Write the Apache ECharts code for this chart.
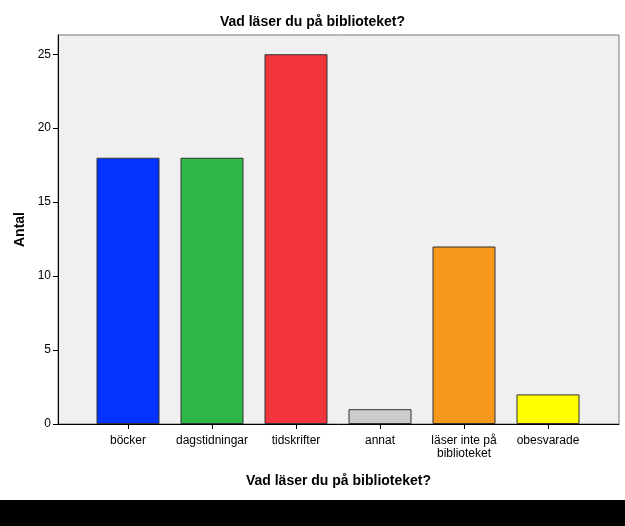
<!DOCTYPE html>
<html>
<head>
<meta charset="utf-8">
<script src="https://cdn.jsdelivr.net/npm/echarts@6/dist/echarts.min.js"></script>
<style>html,body{margin:0;padding:0;background:#fff}#c{width:625px;height:526px}</style>
</head>
<body>
<div id="c"></div>
<script>
const categories = ['böcker', 'dagstidningar', 'tidskrifter', 'annat', 'läser inte på\nbiblioteket', 'obesvarade'];
const values = [18, 18, 25, 1, 12, 2];
const barColors = ['#0433FF', '#2EB84A', '#F2343C', '#CCCCCC', '#F7981D', '#FFFF00'];
const yTicks = [0, 5, 10, 15, 20, 25];
const yMax = 26.3;
const titleText = 'Vad läser du på biblioteket?';
const xName = 'Vad läser du på biblioteket?';
const yName = 'Antal';

const font = 'Liberation Sans, Arial, sans-serif';
const chart = echarts.init(document.getElementById('c'), null, {renderer: 'canvas'});
chart.setOption({
  animation: false,
  backgroundColor: '#fff',
  title: {
    text: titleText, left: 'center', top: 10,
    textStyle: {fontFamily: font, fontSize: 14, fontWeight: 'bold', color: '#000'}
  },
  grid: [
    {left: 58, right: 6, top: 35, bottom: 102, show: true, backgroundColor: '#F0F0F0', borderColor: '#777', borderWidth: 1},
    {left: 86, right: 35, top: 35, bottom: 102}
  ],
  xAxis: [
    {gridIndex: 0, type: 'value', min: 0, max: 1, axisLine: {show: true, onZero: false, lineStyle: {color: '#000', width: 1}},
     axisTick: {show: false}, axisLabel: {show: false}, splitLine: {show: false},
     name: xName, nameLocation: 'middle', nameGap: 50,
     nameTextStyle: {fontFamily: font, fontSize: 14, fontWeight: 'bold', color: '#000'}},
    {gridIndex: 1, type: 'category', data: categories,
     axisLine: {show: false},
     axisTick: {show: true, alignWithLabel: true, length: 5, lineStyle: {color: '#000'}},
     axisLabel: {interval: 0, fontFamily: font, fontSize: 12, color: '#000', margin: 10, lineHeight: 13}}
  ],
  yAxis: [
    {gridIndex: 0, type: 'value', min: 0, max: yMax,
     axisLine: {show: true, lineStyle: {color: '#000', width: 1}},
     axisTick: {show: true, length: 5, customValues: yTicks, lineStyle: {color: '#000'}},
     axisLabel: {customValues: yTicks, fontFamily: font, fontSize: 12, color: '#000', margin: 7},
     splitLine: {show: false},
     name: yName, nameLocation: 'middle', nameGap: 28, nameRotate: 90,
     nameTextStyle: {fontFamily: font, fontSize: 14, fontWeight: 'bold', color: '#000'}},
    {gridIndex: 1, type: 'value', min: 0, max: yMax, show: false, splitLine: {show: false}}
  ],
  series: [{
    type: 'bar', xAxisIndex: 1, yAxisIndex: 1,
    barWidth: 63,
    data: values.map((v, i) => ({value: v, itemStyle: {color: barColors[i]}})),
    itemStyle: {borderColor: '#333', borderWidth: 1}
  }],
  graphic: [{
    type: 'rect', left: 0, top: 500, shape: {width: 625, height: 26}, style: {fill: '#000'}, z: 100
  }]
});
</script>
</body>
</html>
